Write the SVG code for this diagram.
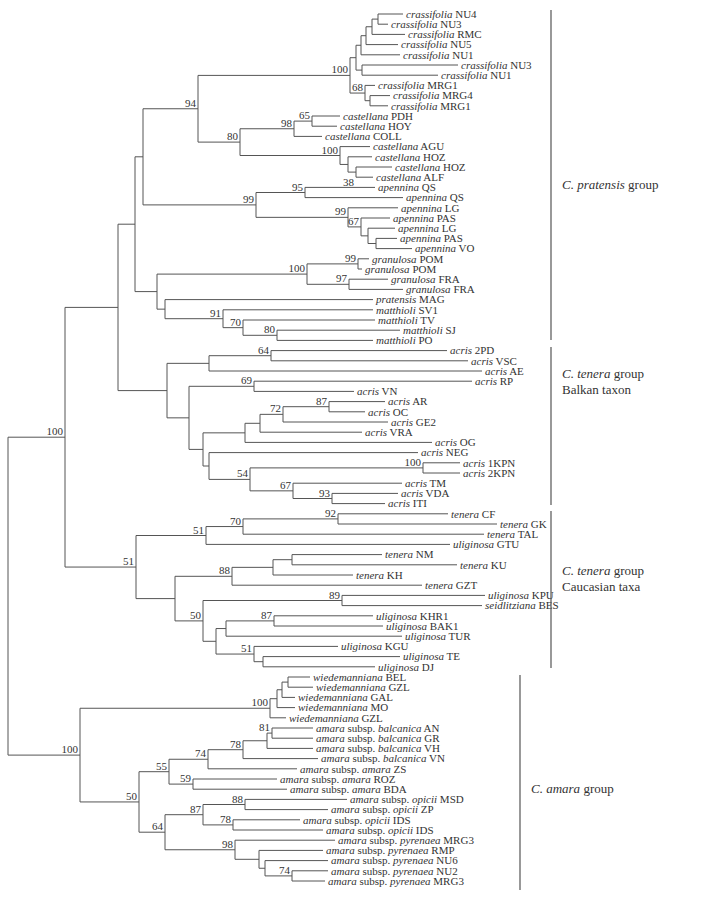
<svg xmlns="http://www.w3.org/2000/svg" width="703" height="900" viewBox="0 0 703 900">
<style>
.br{stroke:#555;stroke-width:1;fill:none}
.bar{stroke:#555;stroke-width:1.2;fill:none}
text{font-family:"Liberation Serif","Times New Roman",serif;fill:#333}
.lf text{font-size:11px}
.sp{font-style:italic}
.bs text{font-size:11px;text-anchor:end}
.grp text{font-size:13px}
</style>
<rect width="703" height="900" fill="#fff"/>
<g id="connectors" class="br">
<path d="M378 14V24.2M378 14H403M378 24.2H388"/>
<path d="M372 19.1V34.4M372 19.1H378M372 34.4H405"/>
<path d="M366 26.75V44.6M366 26.75H372M366 44.6H398"/>
<path d="M361 35.7V54.8M361 35.7H366M361 54.8H400"/>
<path d="M362 65V75.2M362 65H458M362 75.2H438"/>
<path d="M356 45.25V70.1M356 45.25H361M356 70.1H362"/>
<path d="M370 95.6V105.8M370 95.6H390M370 105.8H388"/>
<path d="M365 85.4V100.7M365 85.4H375M365 100.7H370"/>
<path d="M350 57.7V93.05M350 57.7H356M350 93.05H365"/>
<path d="M312 116V126.2M312 116H340M312 126.2H337"/>
<path d="M294 121.1V136.4M294 121.1H312M294 136.4H322"/>
<path d="M356 167V177.2M356 167H392M356 177.2H373"/>
<path d="M348 156.8V172.1M348 156.8H372M348 172.1H356"/>
<path d="M340 146.6V164.45M340 146.6H370M340 164.45H348"/>
<path d="M240 128.75V155.5M240 128.75H294M240 155.5H340"/>
<path d="M198 75.4V142.1M198 75.4H350M198 142.1H240"/>
<path d="M305 187.4V197.6M305 187.4H375M305 197.6H403"/>
<path d="M376 238.4V248.6M376 238.4H397M376 248.6H412"/>
<path d="M368 228.2V243.5M368 228.2H395M368 243.5H376"/>
<path d="M361 218V235.85M361 218H390M361 235.85H368"/>
<path d="M348 207.8V226.9M348 207.8H398M348 226.9H361"/>
<path d="M256 192.5V217.35M256 192.5H305M256 217.35H348"/>
<path d="M143 108.75V204.9M143 108.75H198M143 204.9H256"/>
<path d="M358 258.8V269M358 258.8H369M358 269H362"/>
<path d="M349 279.2V289.4M349 279.2H388M349 289.4H403"/>
<path d="M307 263.9V284.3M307 263.9H358M307 284.3H349"/>
<path d="M277 330.2V340.4M277 330.2H400M277 340.4H373"/>
<path d="M243 320V335.3M243 320H375M243 335.3H277"/>
<path d="M223 309.8V327.65M223 309.8H373M223 327.65H243"/>
<path d="M165 299.6V318.7M165 299.6H373M165 318.7H223"/>
<path d="M157 274.1V309.15M157 274.1H307M157 309.15H165"/>
<path d="M135 156.8V291.6M135 156.8H143M135 291.6H157"/>
<path d="M271 350.6V360.8M271 350.6H447M271 360.8H468"/>
<path d="M209 355.7V371M209 355.7H271M209 371H482"/>
<path d="M254 381.2V391.4M254 381.2H472M254 391.4H354"/>
<path d="M329 401.6V411.8M329 401.6H385M329 411.8H365"/>
<path d="M283 406.7V422M283 406.7H329M283 422H388"/>
<path d="M260 414.35V432.2M260 414.35H283M260 432.2H362"/>
<path d="M245 423.3V442.4M245 423.3H260M245 442.4H432"/>
<path d="M423 462.8V473M423 462.8H460M423 473H460"/>
<path d="M332 493.4V503.6M332 493.4H398M332 503.6H385"/>
<path d="M293 483.2V498.5M293 483.2H402M293 498.5H332"/>
<path d="M250 467.9V490.85M250 467.9H423M250 490.85H293"/>
<path d="M209 452.6V479.4M209 452.6H418M209 479.4H250"/>
<path d="M203 432.85V466M203 432.85H245M203 466H209"/>
<path d="M189 386.3V449.4M189 386.3H254M189 449.4H203"/>
<path d="M167 363.35V417.85M167 363.35H209M167 417.85H189"/>
<path d="M118 224.2V390.6M118 224.2H135M118 390.6H167"/>
<path d="M338 513.8V524M338 513.8H448M338 524H497"/>
<path d="M243 518.9V534.2M243 518.9H338M243 534.2H484"/>
<path d="M206 526.55V544.4M206 526.55H243M206 544.4H450"/>
<path d="M292 554.6V564.8M292 554.6H382M292 564.8H457"/>
<path d="M273 559.7V575M273 559.7H292M273 575H353"/>
<path d="M232 567.35V585.2M232 567.35H273M232 585.2H422"/>
<path d="M342 595.4V605.6M342 595.4H485M342 605.6H482"/>
<path d="M274 615.8V626M274 615.8H373M274 626H383"/>
<path d="M226 620.9V636.2M226 620.9H274M226 636.2H402"/>
<path d="M263 656.6V666.8M263 656.6H400M263 666.8H375"/>
<path d="M254 646.4V661.7M254 646.4H338M254 661.7H263"/>
<path d="M216 628.55V654.05M216 628.55H226M216 654.05H254"/>
<path d="M203 600.5V641.3M203 600.5H342M203 641.3H216"/>
<path d="M175 576.3V620.9M175 576.3H232M175 620.9H203"/>
<path d="M136 535.5V598.6M136 535.5H206M136 598.6H175"/>
<path d="M65 307.4V567.05M65 307.4H118M65 567.05H136"/>
<path d="M288 677V687.2M288 677H310M288 687.2H313"/>
<path d="M282 682.1V697.4M282 682.1H288M282 697.4H295"/>
<path d="M277 689.75V707.6M277 689.75H282M277 707.6H295"/>
<path d="M270 698.7V717.8M270 698.7H277M270 717.8H286"/>
<path d="M272 728V738.2M272 728H313M272 738.2H313"/>
<path d="M267 733.1V748.4M267 733.1H272M267 748.4H313"/>
<path d="M243 740.75V758.6M243 740.75H267M243 758.6H318"/>
<path d="M208 749.7V768.8M208 749.7H243M208 768.8H297"/>
<path d="M193 779V789.2M193 779H277M193 789.2H287"/>
<path d="M169 759.25V784.1M169 759.25H208M169 784.1H193"/>
<path d="M245 799.4V809.6M245 799.4H347M245 809.6H328"/>
<path d="M233 819.8V830M233 819.8H300M233 830H323"/>
<path d="M203 804.5V824.9M203 804.5H245M203 824.9H233"/>
<path d="M292 870.8V881M292 870.8H328M292 881H325"/>
<path d="M265 860.6V875.9M265 860.6H328M265 875.9H292"/>
<path d="M259 850.4V868.25M259 850.4H323M259 868.25H265"/>
<path d="M235 840.2V859.3M235 840.2H335M235 859.3H259"/>
<path d="M165 814.7V849.75M165 814.7H203M165 849.75H235"/>
<path d="M139 771.7V832.2M139 771.7H169M139 832.2H165"/>
<path d="M80 708.25V801.95M80 708.25H270M80 801.95H139"/>
<path d="M8 437.2V755.1M8 437.2H65M8 755.1H80"/>
</g>
<g id="bootstrap" class="bs">
<text x="348" y="73.4">100</text>
<text x="363" y="91">68</text>
<text x="310" y="119">65</text>
<text x="292" y="126.7">98</text>
<text x="338" y="153.5">100</text>
<text x="354" y="186">38</text>
<text x="238" y="140">80</text>
<text x="196" y="106.7">94</text>
<text x="303" y="190.5">95</text>
<text x="254" y="203">99</text>
<text x="346" y="215.3">99</text>
<text x="359" y="225">67</text>
<text x="356" y="262">99</text>
<text x="347" y="282.3">97</text>
<text x="305" y="272">100</text>
<text x="221" y="316.7">91</text>
<text x="241" y="325.6">70</text>
<text x="275" y="333.3">80</text>
<text x="269" y="353.7">64</text>
<text x="252" y="384.3">69</text>
<text x="327" y="404.7">87</text>
<text x="281" y="412.3">72</text>
<text x="421" y="466">100</text>
<text x="248" y="477.4">54</text>
<text x="291" y="488.8">67</text>
<text x="330" y="496.5">93</text>
<text x="336" y="516.9">92</text>
<text x="241" y="524.5">70</text>
<text x="204" y="533.5">51</text>
<text x="230" y="574.3">88</text>
<text x="340" y="598.5">89</text>
<text x="201" y="618.9">50</text>
<text x="272" y="618.9">87</text>
<text x="252" y="652">51</text>
<text x="134" y="565">51</text>
<text x="63" y="435.2">100</text>
<text x="268" y="706.2">100</text>
<text x="270" y="731.1">81</text>
<text x="241" y="747.7">78</text>
<text x="206" y="757.2">74</text>
<text x="167" y="769.7">55</text>
<text x="191" y="782.1">59</text>
<text x="137" y="800">50</text>
<text x="243" y="802.5">88</text>
<text x="231" y="822.9">78</text>
<text x="201" y="812.7">87</text>
<text x="163" y="830.2">64</text>
<text x="233" y="847.7">98</text>
<text x="290" y="873.9">74</text>
<text x="78" y="753">100</text>
</g>
<g class="lf">
<g id="L0"><text x="406" y="17.8"><tspan class="sp">crassifolia</tspan> NU4</text></g>
<g id="L1"><text x="391" y="28"><tspan class="sp">crassifolia</tspan> NU3</text></g>
<g id="L2"><text x="408" y="38.2"><tspan class="sp">crassifolia</tspan> RMC</text></g>
<g id="L3"><text x="401" y="48.4"><tspan class="sp">crassifolia</tspan> NU5</text></g>
<g id="L4"><text x="403" y="58.6"><tspan class="sp">crassifolia</tspan> NU1</text></g>
<g id="L5"><text x="461" y="68.8"><tspan class="sp">crassifolia</tspan> NU3</text></g>
<g id="L6"><text x="441" y="79"><tspan class="sp">crassifolia</tspan> NU1</text></g>
<g id="L7"><text x="378" y="89.2"><tspan class="sp">crassifolia</tspan> MRG1</text></g>
<g id="L8"><text x="393" y="99.4"><tspan class="sp">crassifolia</tspan> MRG4</text></g>
<g id="L9"><text x="391" y="109.6"><tspan class="sp">crassifolia</tspan> MRG1</text></g>
<g id="L10"><text x="343" y="119.8"><tspan class="sp">castellana</tspan> PDH</text></g>
<g id="L11"><text x="340" y="130"><tspan class="sp">castellana</tspan> HOY</text></g>
<g id="L12"><text x="325" y="140.2"><tspan class="sp">castellana</tspan> COLL</text></g>
<g id="L13"><text x="373" y="150.4"><tspan class="sp">castellana</tspan> AGU</text></g>
<g id="L14"><text x="375" y="160.6"><tspan class="sp">castellana</tspan> HOZ</text></g>
<g id="L15"><text x="395" y="170.8"><tspan class="sp">castellana</tspan> HOZ</text></g>
<g id="L16"><text x="376" y="181"><tspan class="sp">castellana</tspan> ALF</text></g>
<g id="L17"><text x="378" y="191.2"><tspan class="sp">apennina</tspan> QS</text></g>
<g id="L18"><text x="406" y="201.4"><tspan class="sp">apennina</tspan> QS</text></g>
<g id="L19"><text x="401" y="211.6"><tspan class="sp">apennina</tspan> LG</text></g>
<g id="L20"><text x="393" y="221.8"><tspan class="sp">apennina</tspan> PAS</text></g>
<g id="L21"><text x="398" y="232"><tspan class="sp">apennina</tspan> LG</text></g>
<g id="L22"><text x="400" y="242.2"><tspan class="sp">apennina</tspan> PAS</text></g>
<g id="L23"><text x="415" y="252.4"><tspan class="sp">apennina</tspan> VO</text></g>
<g id="L24"><text x="372" y="262.6"><tspan class="sp">granulosa</tspan> POM</text></g>
<g id="L25"><text x="365" y="272.8"><tspan class="sp">granulosa</tspan> POM</text></g>
<g id="L26"><text x="391" y="283"><tspan class="sp">granulosa</tspan> FRA</text></g>
<g id="L27"><text x="406" y="293.2"><tspan class="sp">granulosa</tspan> FRA</text></g>
<g id="L28"><text x="376" y="303.4"><tspan class="sp">pratensis</tspan> MAG</text></g>
<g id="L29"><text x="376" y="313.6"><tspan class="sp">matthioli</tspan> SV1</text></g>
<g id="L30"><text x="378" y="323.8"><tspan class="sp">matthioli</tspan> TV</text></g>
<g id="L31"><text x="403" y="334"><tspan class="sp">matthioli</tspan> SJ</text></g>
<g id="L32"><text x="376" y="344.2"><tspan class="sp">matthioli</tspan> PO</text></g>
<g id="L33"><text x="450" y="354.4"><tspan class="sp">acris</tspan> 2PD</text></g>
<g id="L34"><text x="471" y="364.6"><tspan class="sp">acris</tspan> VSC</text></g>
<g id="L35"><text x="485" y="374.8"><tspan class="sp">acris</tspan> AE</text></g>
<g id="L36"><text x="475" y="385"><tspan class="sp">acris</tspan> RP</text></g>
<g id="L37"><text x="357" y="395.2"><tspan class="sp">acris</tspan> VN</text></g>
<g id="L38"><text x="388" y="405.4"><tspan class="sp">acris</tspan> AR</text></g>
<g id="L39"><text x="368" y="415.6"><tspan class="sp">acris</tspan> OC</text></g>
<g id="L40"><text x="391" y="425.8"><tspan class="sp">acris</tspan> GE2</text></g>
<g id="L41"><text x="365" y="436"><tspan class="sp">acris</tspan> VRA</text></g>
<g id="L42"><text x="435" y="446.2"><tspan class="sp">acris</tspan> OG</text></g>
<g id="L43"><text x="421" y="456.4"><tspan class="sp">acris</tspan> NEG</text></g>
<g id="L44"><text x="463" y="466.6"><tspan class="sp">acris</tspan> 1KPN</text></g>
<g id="L45"><text x="463" y="476.8"><tspan class="sp">acris</tspan> 2KPN</text></g>
<g id="L46"><text x="405" y="487"><tspan class="sp">acris</tspan> TM</text></g>
<g id="L47"><text x="401" y="497.2"><tspan class="sp">acris</tspan> VDA</text></g>
<g id="L48"><text x="388" y="507.4"><tspan class="sp">acris</tspan> ITI</text></g>
<g id="L49"><text x="451" y="517.6"><tspan class="sp">tenera</tspan> CF</text></g>
<g id="L50"><text x="500" y="527.8"><tspan class="sp">tenera</tspan> GK</text></g>
<g id="L51"><text x="487" y="538"><tspan class="sp">tenera</tspan> TAL</text></g>
<g id="L52"><text x="453" y="548.2"><tspan class="sp">uliginosa</tspan> GTU</text></g>
<g id="L53"><text x="385" y="558.4"><tspan class="sp">tenera</tspan> NM</text></g>
<g id="L54"><text x="460" y="568.6"><tspan class="sp">tenera</tspan> KU</text></g>
<g id="L55"><text x="356" y="578.8"><tspan class="sp">tenera</tspan> KH</text></g>
<g id="L56"><text x="425" y="589"><tspan class="sp">tenera</tspan> GZT</text></g>
<g id="L57"><text x="488" y="599.2"><tspan class="sp">uliginosa</tspan> KPU</text></g>
<g id="L58"><text x="485" y="609.4"><tspan class="sp">seidlitziana</tspan> BES</text></g>
<g id="L59"><text x="376" y="619.6"><tspan class="sp">uliginosa</tspan> KHR1</text></g>
<g id="L60"><text x="386" y="629.8"><tspan class="sp">uliginosa</tspan> BAK1</text></g>
<g id="L61"><text x="405" y="640"><tspan class="sp">uliginosa</tspan> TUR</text></g>
<g id="L62"><text x="341" y="650.2"><tspan class="sp">uliginosa</tspan> KGU</text></g>
<g id="L63"><text x="403" y="660.4"><tspan class="sp">uliginosa</tspan> TE</text></g>
<g id="L64"><text x="378" y="670.6"><tspan class="sp">uliginosa</tspan> DJ</text></g>
<g id="L65"><text x="313" y="680.8"><tspan class="sp">wiedemanniana</tspan> BEL</text></g>
<g id="L66"><text x="316" y="691"><tspan class="sp">wiedemanniana</tspan> GZL</text></g>
<g id="L67"><text x="298" y="701.2"><tspan class="sp">wiedemanniana</tspan> GAL</text></g>
<g id="L68"><text x="298" y="711.4"><tspan class="sp">wiedemanniana</tspan> MO</text></g>
<g id="L69"><text x="289" y="721.6"><tspan class="sp">wiedemanniana</tspan> GZL</text></g>
<g id="L70"><text x="316" y="731.8"><tspan class="sp">amara</tspan> subsp. <tspan class="sp">balcanica</tspan> AN</text></g>
<g id="L71"><text x="316" y="742"><tspan class="sp">amara</tspan> subsp. <tspan class="sp">balcanica</tspan> GR</text></g>
<g id="L72"><text x="316" y="752.2"><tspan class="sp">amara</tspan> subsp. <tspan class="sp">balcanica</tspan> VH</text></g>
<g id="L73"><text x="321" y="762.4"><tspan class="sp">amara</tspan> subsp. <tspan class="sp">balcanica</tspan> VN</text></g>
<g id="L74"><text x="300" y="772.6"><tspan class="sp">amara</tspan> subsp. <tspan class="sp">amara</tspan> ZS</text></g>
<g id="L75"><text x="280" y="782.8"><tspan class="sp">amara</tspan> subsp. <tspan class="sp">amara</tspan> ROZ</text></g>
<g id="L76"><text x="290" y="793"><tspan class="sp">amara</tspan> subsp. <tspan class="sp">amara</tspan> BDA</text></g>
<g id="L77"><text x="350" y="803.2"><tspan class="sp">amara</tspan> subsp. <tspan class="sp">opicii</tspan> MSD</text></g>
<g id="L78"><text x="331" y="813.4"><tspan class="sp">amara</tspan> subsp. <tspan class="sp">opicii</tspan> ZP</text></g>
<g id="L79"><text x="303" y="823.6"><tspan class="sp">amara</tspan> subsp. <tspan class="sp">opicii</tspan> IDS</text></g>
<g id="L80"><text x="326" y="833.8"><tspan class="sp">amara</tspan> subsp. <tspan class="sp">opicii</tspan> IDS</text></g>
<g id="L81"><text x="338" y="844"><tspan class="sp">amara</tspan> subsp. <tspan class="sp">pyrenaea</tspan> MRG3</text></g>
<g id="L82"><text x="326" y="854.2"><tspan class="sp">amara</tspan> subsp. <tspan class="sp">pyrenaea</tspan> RMP</text></g>
<g id="L83"><text x="331" y="864.4"><tspan class="sp">amara</tspan> subsp. <tspan class="sp">pyrenaea</tspan> NU6</text></g>
<g id="L84"><text x="331" y="874.6"><tspan class="sp">amara</tspan> subsp. <tspan class="sp">pyrenaea</tspan> NU2</text></g>
<g id="L85"><text x="328" y="884.8"><tspan class="sp">amara</tspan> subsp. <tspan class="sp">pyrenaea</tspan> MRG3</text></g>
</g>
<g id="groups" class="grp">
<path class="bar" d="M551 10V340M551 347V505M551 511V668M520 675V890"/>
<text x="562" y="189"><tspan class="sp">C. pratensis</tspan> group</text>
<text x="562" y="378"><tspan class="sp">C. tenera</tspan> group</text>
<text x="562" y="394">Balkan taxon</text>
<text x="562" y="575"><tspan class="sp">C. tenera</tspan> group</text>
<text x="562" y="591">Caucasian taxa</text>
<text x="531" y="793"><tspan class="sp">C. amara</tspan> group</text>
</g>
</svg>
